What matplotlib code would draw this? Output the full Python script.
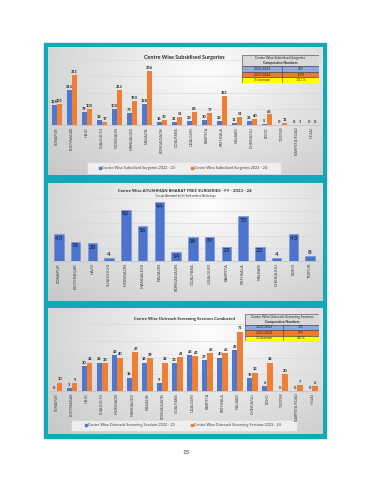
import matplotlib
matplotlib.use('Agg')
import matplotlib.pyplot as plt
import numpy as np
from matplotlib.patches import Rectangle

plt.rcParams['font.family'] = ['Lato', 'DejaVu Sans']

# ---------------- data ----------------
centres1 = ['SONAPUR', 'BIJOYNAGAR', 'HAJO', 'SUALKUCHI', 'MORIGAON', 'MANGALDOI',
            'NAGAON', 'BONGAIGAON', 'GOALPARA', 'UDALGURI', 'BARPETA', 'PATHSALA',
            'NALBARI', 'DHEKIAJULI', 'BOKO', 'TEZPUR', 'BARPETA ROAD', 'HOJAI']
sub_2223 = [125, 214, 79, 32, 100, 73, 128, 16, 21, 23, 30, 22, 11, 25, 5, 0, 0, 0]
sub_2324 = [131, 311, 100, 17, 214, 150, 336, 33, 51, 83, 77, 181, 51, 40, 65, 11, 1, 0]
sub_tbl_rows = ['2022-2023', '2023-2024', '% Increase']
sub_tbl_vals = ['929', '1870', '101 %']

centres2 = ['SONAPUR', 'BIJOYNAGAR', 'HAJO', 'SUALKUCHI', 'MORIGAON', 'MANGALDOI',
            'NAGAON', 'BONGAIGAON', 'GOALPARA', 'UDALGURI', 'BARPETA', 'PATHSALA',
            'NALBARI', 'DHEKIAJULI', 'BOKO', 'TEZPUR']
ab_2324 = [43, 31, 28, 4, 82, 56, 94, 14, 38, 39, 23, 72, 23, 4, 43, 8]

centres3 = centres1
out_2223 = [0, 3, 30, 34, 43, 16, 34, 9, 33, 43, 37, 40, 49, 15, 6, 0, 0, 0]
out_2324 = [10, 9, 34, 33, 40, 47, 39, 34, 41, 42, 45, 45, 71, 22, 34, 20, 7, 6]
out_tbl_rows = ['2022-2023', '2023-2024', '% Increase']
out_tbl_vals = ['392', '579', '48 %']

# ---------------- style ----------------
W, H = 370, 480
TEAL = '#14A7B8'
BLUE = '#4F77CF'
ORANGE = '#EE7F35'
TXT = '#262626'

fig = plt.figure(figsize=(W / 100, H / 100), dpi=100)
fig.patch.set_facecolor('white')


def px_axes(x0, y0, x1, y1, z=1):
    return fig.add_axes([x0 / W, 1 - y1 / H, (x1 - x0) / W, (y1 - y0) / H], zorder=z)


def panel(y0, y1):
    fig.add_artist(Rectangle((44 / W, 1 - y1 / H), (326 - 44) / W, (y1 - y0) / H,
                             transform=fig.transFigure, color=TEAL, zorder=0))
    ax = px_axes(47.5, y0 + 3.5, 322.5, y1 - 3.5, z=0.5)
    ny, nx = 120, 240
    yy, xx = np.mgrid[0:1:ny * 1j, 0:1:nx * 1j]
    d = np.sqrt(((xx - 0.58) / 0.75) ** 2 + ((yy - 0.2) / 1.1) ** 2)
    v = 0.99 - 0.2 * np.clip(d, 0, 1.1)
    ax.imshow(v, cmap='gray', vmin=0, vmax=1, extent=[0, 1, 0, 1], aspect='auto')
    ax.axis('off')


def style_axes(ax, ymax, step, labels, fs):
    ax.set_facecolor('none')
    ax.set_ylim(0, ymax)
    ax.set_xlim(-0.5, len(labels) - 0.5)
    for s in ['top', 'right', 'left']:
        ax.spines[s].set_visible(False)
    ax.spines['bottom'].set_color('#BFBFBF')
    ax.spines['bottom'].set_linewidth(0.5)
    ax.set_yticks(np.arange(step, ymax + 0.1, step))
    ax.yaxis.grid(True, color='#D6D6D6', linewidth=0.4)
    ax.set_axisbelow(True)
    ax.tick_params(axis='y', left=False, labelleft=False)
    ax.tick_params(axis='x', length=0, pad=1.5)
    ax.set_xticks(range(len(labels)))
    ax.set_xticklabels(labels, rotation=90, fontsize=fs, color='#404040', va='top')


def table(x0, y0, x1, y1, xs, head1, head2, rows, vals):
    ax = px_axes(x0, y0, x1, y1, z=5)
    ax.set_xlim(0, 1)
    ax.set_ylim(0, 1)
    ax.axis('off')
    hh = 1 / 5.0
    ax.add_patch(Rectangle((0, 1 - 2 * hh), 1, 2 * hh, facecolor='#D9D9D9', edgecolor='#404040', lw=0.4))
    ax.text(0.5, 1 - 0.5 * hh, head1, ha='center', va='center', fontsize=2.4, color=TXT)
    ax.text(0.5, 1 - 1.5 * hh, head2, ha='center', va='center', fontsize=2.4, color=TXT, fontweight='bold')
    cols = ['#8EA9DB', '#F07B2E', '#FFFF00']
    for i, (r, v) in enumerate(zip(rows, vals)):
        yb = 1 - (3 + i) * hh
        ax.add_patch(Rectangle((0, yb), 1, hh, facecolor=cols[i], edgecolor='#404040', lw=0.4))
        ax.plot([xs, xs], [yb, yb + hh], color='#404040', lw=0.4)
        ax.text(xs / 2, yb + hh / 2, r, ha='center', va='center', fontsize=2.4, color=TXT)
        ax.text((1 + xs) / 2, yb + hh / 2, v, ha='center', va='center', fontsize=2.4, color=TXT)


def legend(y, items, boxx):
    fig.add_artist(Rectangle((boxx[0] / W, 1 - (y + 4.5) / H), (boxx[1] - boxx[0]) / W, 9 / H,
                             transform=fig.transFigure, color='#EEEEEE', zorder=2))
    for (x, col, txt) in items:
        fig.add_artist(Rectangle(((x - 1.2) / W, 1 - (y + 1.2) / H), 2.4 / W, 2.4 / H,
                                 transform=fig.transFigure, color=col, zorder=3))
        fig.text((x + 2.5) / W, 1 - y / H, txt, fontsize=2.7, color='#404040',
                 va='center', ha='left', zorder=3)


# ---------------- panels ----------------
panel(43, 179)
panel(179, 304)
panel(304, 438)

# ---------------- chart 1 ----------------
ax1 = px_axes(49.5, 60.3, 319.5, 125, z=2)
x = np.arange(len(centres1))
bw = 0.36
b1 = ax1.bar(x - bw / 2, sub_2223, bw, color=BLUE)
b2 = ax1.bar(x + bw / 2, sub_2324, bw, color=ORANGE)
style_axes(ax1, 400, 100, centres1, 2.7)
for bars, vals in ((b1, sub_2223), (b2, sub_2324)):
    for r, v in zip(bars, vals):
        ax1.text(r.get_x() + r.get_width() / 2, v + 6, str(v), ha='center', va='bottom',
                 fontsize=2.9, fontweight='bold', color=TXT)
fig.text(184 / W, 1 - 57 / H, 'Centre Wise Subsidised Surgeries', ha='center', va='center',
         fontsize=3.9, fontweight='bold', color=TXT)
table(242, 55, 319, 83, 0.52, 'Centre Wise Subsidised Surgeries', 'Comparative Numbers',
      sub_tbl_rows, sub_tbl_vals)
legend(168, [(100, BLUE, 'Centre Wise Subsidised Surgeries 2022 - 23'),
             (192, ORANGE, 'Centre Wise Subsidised Surgeries 2023 - 24')], (88, 280))

# ---------------- chart 2 ----------------
ax2 = px_axes(50.6, 198.2, 318.4, 261, z=2)
x2 = np.arange(len(centres2))
bars = ax2.bar(x2, ab_2324, 0.56, color='#4D74CC', edgecolor='#6F8FDB', linewidth=0.4)
style_axes(ax2, 100, 20, centres2, 3.0)
for r, v in zip(bars, ab_2324):
    if v >= 10:
        ax2.text(r.get_x() + r.get_width() / 2, v - 3, str(v), ha='center', va='top',
                 fontsize=4.6, fontweight='bold', color='#1F2F5C')
    else:
        ax2.text(r.get_x() + r.get_width() / 2, v + 2, str(v), ha='center', va='bottom',
                 fontsize=4.6, fontweight='bold', color='#1F2F5C')
fig.text(185 / W, 1 - 190.5 / H, 'Centre Wise AYUSHMAN BHARAT FREE SURGERIES - FY - 2023 - 24',
         ha='center', va='center', fontsize=3.1, fontweight='bold', color=TXT)
fig.text(185 / W, 1 - 195.8 / H, '*In case Attended by Sri Sankaradeva Nethralaya',
         ha='center', va='center', fontsize=2.0, color=TXT)

# ---------------- chart 3 ----------------
ax3 = px_axes(49.5, 324.2, 320, 391, z=2)
x3 = np.arange(len(centres3))
c1 = ax3.bar(x3 - bw / 2, out_2223, bw, color=BLUE)
c2 = ax3.bar(x3 + bw / 2, out_2324, bw, color=ORANGE)
style_axes(ax3, 80, 20, centres3, 2.7)
for bars, vals in ((c1, out_2223), (c2, out_2324)):
    for r, v in zip(bars, vals):
        ax3.text(r.get_x() + r.get_width() / 2, v + 1.5, str(v), ha='center', va='bottom',
                 fontsize=2.9, fontweight='bold', color=TXT)
fig.text(184 / W, 1 - 319 / H, 'Centre Wise Outreach Screening Sessions Conducted', ha='center',
         va='center', fontsize=3.1, fontweight='bold', color=TXT)
table(245, 314, 319, 341, 0.52, 'Centre Wise Outreach Screening Sessions', 'Comparative Numbers',
      out_tbl_rows, out_tbl_vals)
legend(425, [(86, BLUE, 'Centre Wise Outreach Screening Sessions 2022 - 23'),
             (192, ORANGE, 'Centre Wise Outreach Screening Sessions 2023 - 24')], (72, 296))

fig.text(186 / W, 1 - 452 / H, '15', ha='center', va='center', fontsize=4.5, color='#333333')

fig.savefig('out.png', dpi=100)
